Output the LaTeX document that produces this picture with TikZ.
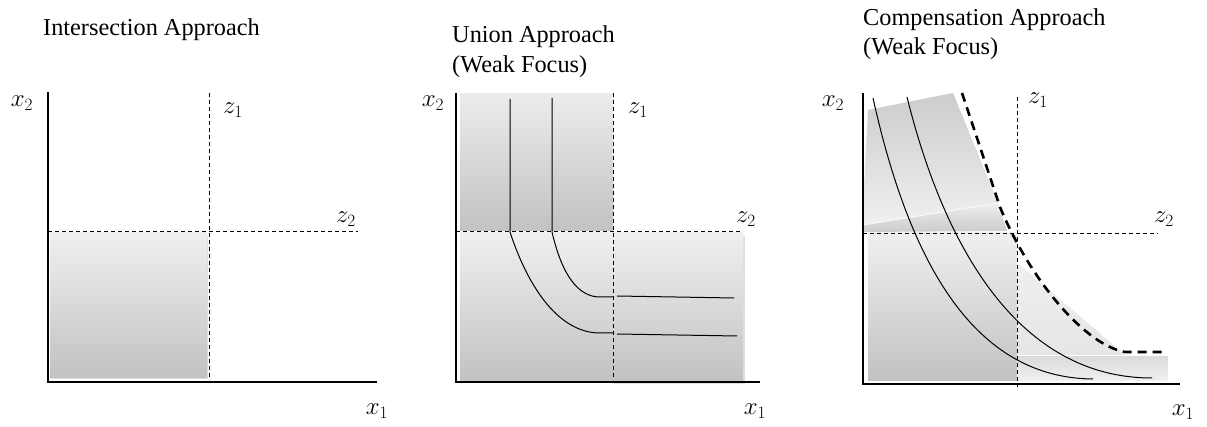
\documentclass[tikz,border=0pt]{standalone}
\usepackage{fontspec}
\setmainfont{Liberation Serif}
\begin{document}
\begin{tikzpicture}[x=1pt,y=-1pt,
  axis/.style={line width=1.3pt,black},
  guide/.style={line width=0.9pt,dash pattern=on 4pt off 3pt},
  bigdash/.style={line width=2.6pt,dash pattern=on 9pt off 6pt},
  curve/.style={line width=1pt},
  title/.style={font=\fontsize{24.3}{29}\selectfont,anchor=base west,inner sep=0pt},
  lab/.style={font=\fontsize{26}{26}\selectfont,inner sep=0pt},
  area/.style={top color=gray!12,bottom color=gray!48,draw=none},
  shadowarea/.style={fill=gray!50,draw=none,opacity=0.5}]
\useasboundingbox (0,0) rectangle (1207,427);

% ---------- Panel 1: Intersection ----------
\fill[shadowarea] (51,236) rectangle (208,379);
\shade[area] (50,233) rectangle (207,377);
\draw[guide] (209,93) -- (209,380);
\draw[guide] (48,231) -- (358,231);
\draw[axis] (48,92) -- (48,382) -- (377,382);
\node[title] (t1) at (43,36) {Intersection Approach};
\node[lab] (x2a) at (22,103) {$x_2$};
\node[lab] (x1a) at (377,411) {$x_1$};
\node[lab] (z1a) at (233,110) {$z_1$};
\node[lab] (z2a) at (346,219) {$z_2$};

% ---------- Panel 2: Union ----------
\fill[shadowarea] (614,236) rectangle (745,384);
\shade[area,top color=gray!15] (460,94) rectangle (613,231);
\shade[area] (460,233) rectangle (743,381);
\draw[guide] (613,93) -- (613,380);
\draw[guide] (456,231) -- (743,231);
\draw[curve] (510,99) -- (510,232) .. controls (529,290) and (560,333) .. (600,333) -- (613,333);
\draw[curve] (617,334) -- (737,336);
\draw[curve] (552,98) -- (552,232) .. controls (562,275) and (578,297) .. (600,297) -- (613,297);
\draw[curve] (617,296) -- (734,298);
\draw[axis] (456,93) -- (456,382) -- (760,382);
\node[title] (t2a) at (452,43) {Union Approach};
\node[title] (t2b) at (452,73) {(Weak Focus)};
\node[lab] (x2b) at (433,103) {$x_2$};
\node[lab] (x1b) at (755,411) {$x_1$};
\node[lab] (z1b) at (638,110) {$z_1$};
\node[lab] (z2b) at (746,219) {$z_2$};

% ---------- Panel 3: Compensation ----------
\shade[draw=none,top color=gray!40,bottom color=gray!12] (868,110) -- (953,93) -- (998,203) -- (862,225) -- cycle;
\shade[draw=none,top color=gray!14,bottom color=gray!40] (862,225) -- (998,203) -- (1007,231) -- (862,232) -- cycle;
\draw[gray!6,line width=1.2pt] (862,225) -- (998,203);
\shade[area] (868,233) rectangle (1017,380);
\shade[draw=none,top color=gray!12,bottom color=gray!20] (1018,263) -- (1125,355) -- (1018,355) -- cycle;
\shade[draw=none,top color=gray!28,bottom color=gray!12] (1018,357) rectangle (1168,380);
\draw[guide] (1017,97) -- (1017,387);
\draw[guide] (863,233) -- (1158,233);
\draw[bigdash] (962,93) -- (1000,207) .. controls (1030,280) and (1085,345) .. (1125,352) -- (1167,352);
\draw[curve] (873,98) .. controls (910,265) and (975,378) .. (1093,379);
\draw[curve] (907,97) .. controls (945,250) and (1020,378) .. (1152,378);
\draw[axis] (863,93) -- (863,384) -- (1180,384);
\node[title] (t3a) at (863,26) {Compensation Approach};
\node[title] (t3b) at (863,55) {(Weak Focus)};
\node[lab] (x2c) at (833,103) {$x_2$};
\node[lab] (x1c) at (1183,412) {$x_1$};
\node[lab] (z1c) at (1038,100) {$z_1$};
\node[lab] (z2c) at (1164,219) {$z_2$};
\end{tikzpicture}
\end{document}
